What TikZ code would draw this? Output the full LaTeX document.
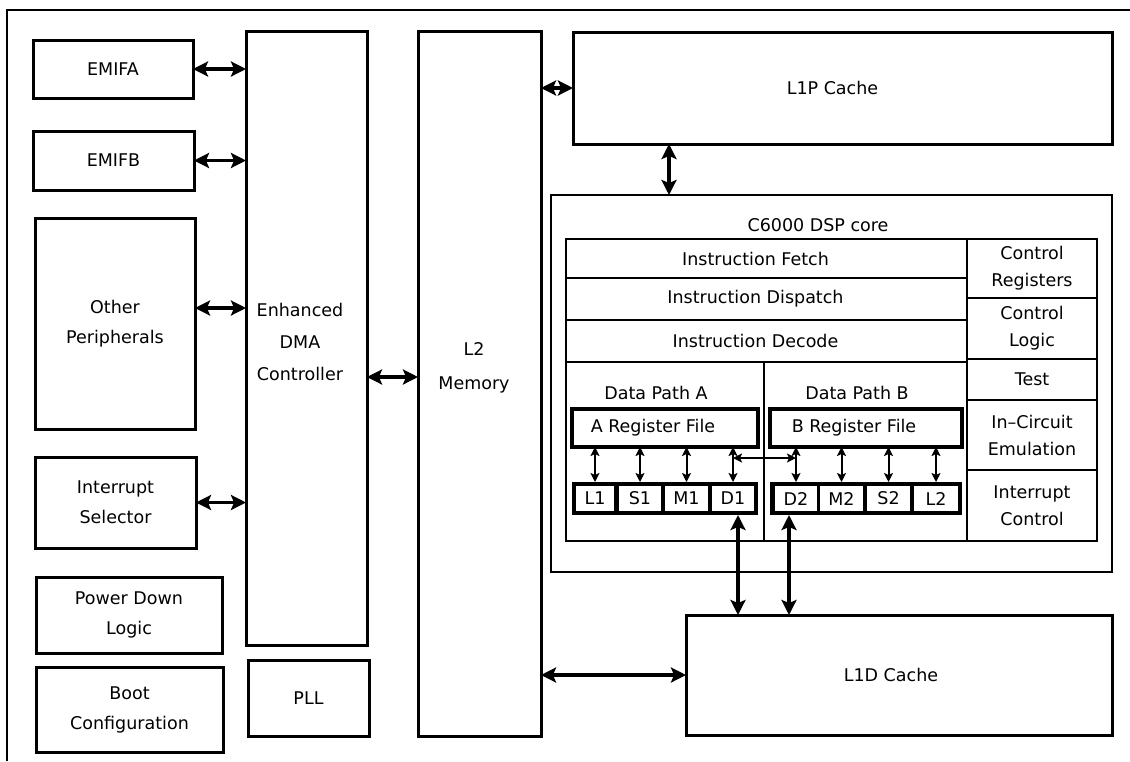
\documentclass[tikz,border=0pt]{standalone}
\usepackage{fontspec}
\setmainfont{DejaVu Sans}
\usetikzlibrary{arrows.meta}
\tikzset{
  box/.style={draw, line width=3pt, rectangle, inner sep=0pt, outer sep=0pt, align=center,
    font=\fontsize{17.5}{30}\selectfont},
  cbox/.style={box, line width=2.5pt, font=\fontsize{17.5}{27}\selectfont},
  cell/.style={rectangle, fill=white, inner sep=0pt, outer sep=0pt, font=\fontsize{17.5}{22}\selectfont},
  unitrow/.style={rectangle, fill=black, inner sep=0pt, outer sep=0pt},
  big/.style={line width=3.5pt, {Stealth[length=15pt,width=15pt,inset=3pt]}-{Stealth[length=15pt,width=15pt,inset=3pt]}},
  small/.style={line width=2pt, {Stealth[length=9pt,width=9pt,inset=2pt]}-{Stealth[length=9pt,width=9pt,inset=2pt]}},
  frame/.style={line width=2pt},
  lbl/.style={inner sep=0pt, font=\fontsize{17.5}{22}\selectfont}
}
\begin{document}
\begin{tikzpicture}[x=1pt,y=-1pt]
\useasboundingbox (0,0) rectangle (1130,761);
\draw[frame] (7,761) -- (7,10) -- (1130,10);

% left column
\node[box, minimum width=160, minimum height=58] (emifa) at (113,69) {EMIFA};
\node[box, minimum width=161, minimum height=59] (emifb) at (113.5,160.5) {EMIFB};
\node[box, minimum width=160, minimum height=211] (other) at (115,323.5) {Other\\Peripherals};
\node[box, minimum width=161, minimum height=91] (intsel) at (115.5,502.5) {Interrupt\\Selector};
\node[box, minimum width=186, minimum height=76] (pdl) at (129,615) {Power Down\\Logic};
\node[box, minimum width=187, minimum height=85] (boot) at (129.5,709.5) {Boot\\Configuration};

% EDMA, PLL, L2
\node[box, minimum width=121, minimum height=614] (edma) at (306.5,338) {};
\node[lbl, align=center, font=\fontsize{17.5}{32}\selectfont] (edmat) at (300,342) {Enhanced\\DMA\\Controller};
\node[box, minimum width=121, minimum height=76] (pll) at (308.5,698) {PLL};
\node[box, minimum width=123, minimum height=705] (l2) at (479.5,383.5) {};
\node[lbl, align=center, font=\fontsize{17.5}{34}\selectfont] (l2t) at (474,368) {L2\\Memory};

% caches
\node[box, minimum width=539, minimum height=112] (l1p) at (842.5,88) {L1P Cache\hspace*{20pt}};
\node[box, minimum width=426, minimum height=120] (l1d) at (899,675) {L1D Cache\hspace*{16pt}};

% DSP core
\node[box, line width=2.6pt, minimum width=561, minimum height=377] (dsp) at (831.5,383.5) {};
\node[lbl] (dspt) at (818,225) {C6000 DSP core};
\node[cbox, minimum width=401, minimum height=39] (fetch) at (766.5,258.5) {Instruction Fetch\hspace*{22pt}};
\node[cbox, minimum width=401, minimum height=42] (disp) at (766.5,299) {Instruction Dispatch\hspace*{22pt}};
\node[cbox, minimum width=401, minimum height=42] (dec) at (766.5,341) {Instruction Decode\hspace*{22pt}};
\node[cbox, minimum width=198, minimum height=179] (dpa) at (665,451.5) {};
\node[cbox, minimum width=203, minimum height=179] (dpb) at (865.5,451.5) {};
\node[lbl] (dpat) at (656,393) {Data Path A};
\node[lbl] (dpbt) at (857,393) {Data Path B};
\node[cbox, minimum width=130, minimum height=59] (creg) at (1032,268.5) {Control\\Registers};
\node[cbox, minimum width=130, minimum height=61] (clog) at (1032,328.5) {Control\\Logic};
\node[cbox, minimum width=130, minimum height=41] (test) at (1032,379.5) {Test};
\node[cbox, minimum width=130, minimum height=70] (ice) at (1032,435) {In--Circuit\\Emulation};
\node[cbox, minimum width=130, minimum height=71] (intc) at (1032,505.5) {Interrupt\\Control};

% register files
\node[box, line width=3.2pt, minimum width=186, minimum height=38] (areg) at (665,428) {A Register File\hspace*{24pt}};
\node[box, line width=3.2pt, minimum width=192, minimum height=38] (breg) at (866,428) {B Register File\hspace*{24pt}};

% functional units
\node[unitrow, minimum width=186, minimum height=33] (arow) at (665,498.5) {};
\node[cell, minimum width=38, minimum height=25] (ul1) at (595,498.5) {L1};
\node[cell, minimum width=42, minimum height=25] (us1) at (640,498.5) {S1};
\node[cell, minimum width=43, minimum height=25] (um1) at (686.5,498.5) {M1};
\node[cell, minimum width=42, minimum height=25] (ud1) at (733,498.5) {D1};
\node[unitrow, minimum width=192, minimum height=33] (brow) at (866,498.5) {};
\node[cell, minimum width=42, minimum height=25] (ud2) at (796,498.5) {D2};
\node[cell, minimum width=43, minimum height=25] (um2) at (841.5,498.5) {M2};
\node[cell, minimum width=43, minimum height=25] (us2) at (888.5,498.5) {S2};
\node[cell, minimum width=44, minimum height=25] (ul2) at (936,498.5) {L2};

% helper coordinates
\coordinate (yother) at (0,308);
\coordinate (yedma) at (0,377);
\coordinate (xcore) at (669,0);
\coordinate (ycross) at (0,458);
\coordinate (xd1) at (738,0);
\coordinate (xd2) at (789,0);

% big connectors
\draw[big] (emifa.east) -- (emifa.east -| edma.west);
\draw[big] (emifb.east) -- (emifb.east -| edma.west);
\draw[big] (other.east |- yother) -- (edma.west |- yother);
\draw[big] (intsel.east) -- (intsel.east -| edma.west);
\draw[big] (edma.east |- yedma) -- (l2.west |- yedma);
\draw[big] (l2.east |- l1p.west) -- (l1p.west);
\draw[big] (l1p.south -| xcore) -- (dsp.north -| xcore);
\draw[big] (l2.east |- l1d.west) -- (l1d.west);
\draw[big] (arow.south -| xd1) -- (l1d.north -| xd1);
\draw[big] (brow.south -| xd2) -- (l1d.north -| xd2);

% small connectors
\foreach \u in {ul1,us1,um1,ud1} { \draw[small] (areg.south -| \u) -- (arow.north -| \u); }
\foreach \u in {ud2,um2,us2,ul2} { \draw[small] (breg.south -| \u) -- (brow.north -| \u); }
\draw[small] (ud1 |- ycross) -- (ud2 |- ycross);
\end{tikzpicture}
\end{document}
